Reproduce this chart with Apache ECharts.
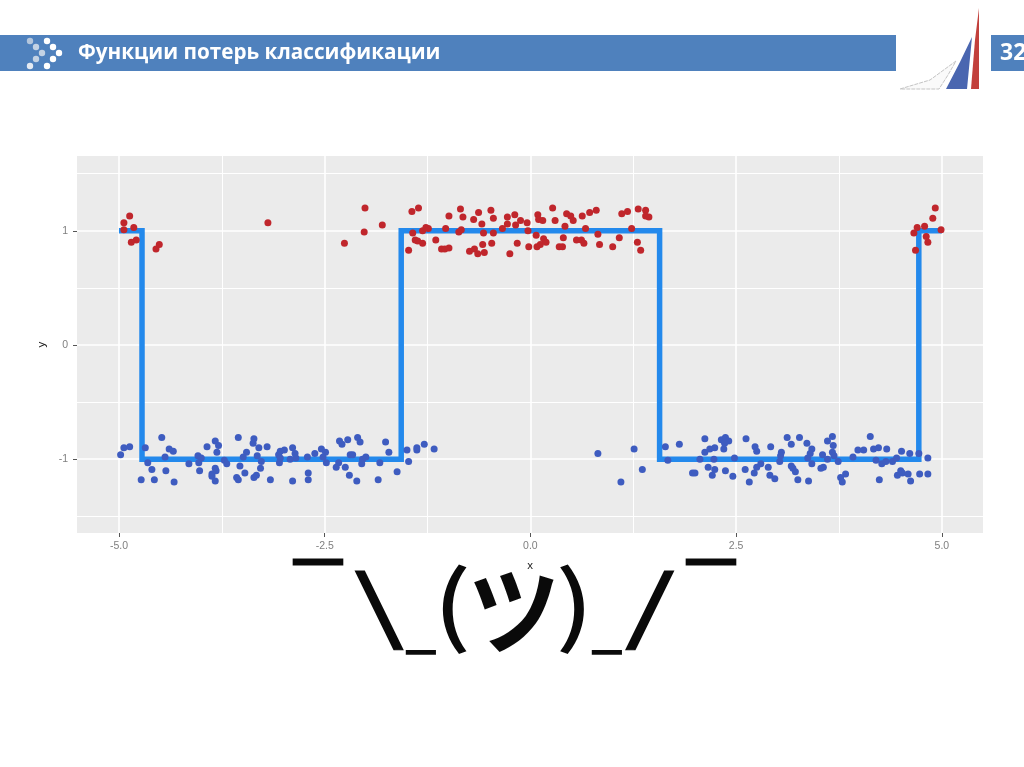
<!DOCTYPE html>
<html>
<head>
<meta charset="utf-8">
<title>Функции потерь классификации</title>
<style>
  html, body { margin: 0; padding: 0; background: #fff; }
  #chart { width: 1024px; height: 767px; }
</style>
<script src="https://cdn.jsdelivr.net/npm/echarts@6/dist/echarts.min.js"></script>
</head>
<body>
<div id="chart"></div>
<script>
const titleText = 'Функции потерь классификации';
const pageNumber = '32';
const shrugGlyphs = ['¯', '\\', '_', '(', 'ツ', ')', '_', '/', '¯'];

const xTicks = [-5, -2.5, 0, 2.5, 5];
const xMinorTicks = [-3.75, -1.25, 1.25, 3.75];
const yTicks = [-1, 0, 1];
const yMinorTicks = [-1.5, -0.5, 0.5, 1.5];

// ступенчатая функция классификатора
const stepLine = [[-5, 1], [-4.72, 1], [-4.72, -1], [-1.57, -1], [-1.57, 1], [1.57, 1], [1.57, -1], [4.72, -1], [4.72, 1], [5, 1]];

const redPoints = [
  [-4.87, 1.13], [-4.94, 1.07], [-4.82, 1.03], [-4.94, 1.01], [-4.79, 0.92], [-4.85, 0.90], [-4.51, 0.88], [-4.55, 0.84],
  [-3.19, 1.07], [-2.01, 1.20], [-1.80, 1.05], [-2.02, 0.99], [-2.26, 0.89],
  [-1.44, 1.17], [-1.36, 1.20], [-1.48, 0.83], [-1.43, 0.98], [-1.40, 0.92], [-1.37, 0.91], [-1.31, 0.89], [-1.31, 1.00],
  [-1.27, 1.03], [-1.24, 1.02], [-1.15, 0.92], [-1.08, 0.84], [-1.04, 0.84], [-0.99, 0.85], [-1.03, 1.02], [-0.99, 1.13],
  [-0.85, 1.19], [-0.82, 1.12], [-0.87, 0.99], [-0.84, 1.01], [-0.74, 0.82], [-0.68, 0.84], [-0.64, 0.80], [-0.56, 0.81],
  [-0.58, 0.88], [-0.47, 0.89], [-0.57, 0.98], [-0.45, 0.98], [-0.59, 1.06], [-0.69, 1.10], [-0.63, 1.16], [-0.48, 1.18],
  [-0.45, 1.11], [-0.34, 1.02], [-0.28, 1.06], [-0.28, 1.12], [-0.19, 1.14], [-0.18, 1.05], [-0.12, 1.09], [-0.04, 1.07],
  [-0.03, 1.00], [-0.25, 0.80], [-0.16, 0.89], [-0.02, 0.86], [0.07, 0.96], [0.08, 0.86], [0.12, 0.88], [0.16, 0.93],
  [0.19, 0.90], [0.09, 1.14], [0.10, 1.10], [0.15, 1.09], [0.30, 1.09], [0.27, 1.20], [0.42, 1.04], [0.44, 1.15],
  [0.49, 1.13], [0.52, 1.09], [0.63, 1.13], [0.72, 1.16], [0.80, 1.18], [0.67, 1.02], [0.82, 0.97], [0.40, 0.94],
  [0.35, 0.86], [0.39, 0.86], [0.56, 0.92], [0.62, 0.92], [0.65, 0.89], [0.84, 0.88], [1.00, 0.86], [1.08, 0.94],
  [1.23, 1.02], [1.11, 1.15], [1.18, 1.17], [1.31, 1.19], [1.40, 1.18], [1.40, 1.13], [1.44, 1.12], [1.30, 0.90], [1.34, 0.83],
  [4.92, 1.20], [4.89, 1.11], [4.79, 1.04], [4.70, 1.03], [4.66, 0.98], [4.99, 1.01], [4.81, 0.95], [4.83, 0.90], [4.68, 0.83]
];

const bluePoints = [
  [-4.98, -0.96], [-4.94, -0.90], [-4.87, -0.89], [-4.68, -0.90], [-4.65, -1.03], [-4.60, -1.09], [-4.73, -1.18], [-4.57, -1.18],
  [-4.43, -1.10], [-4.33, -1.20], [-4.48, -0.81], [-4.44, -0.98], [-4.39, -0.91], [-4.34, -0.93], [-4.15, -1.04], [-4.02, -1.10],
  [-4.04, -0.97], [-4.00, -0.99], [-4.03, -1.03], [-3.93, -0.89], [-3.83, -0.84], [-3.79, -0.88], [-3.81, -0.94], [-3.72, -1.01],
  [-3.69, -1.04], [-3.83, -1.08], [-3.82, -1.10], [-3.87, -1.13], [-3.87, -1.15], [-3.83, -1.19], [-3.55, -0.81], [-3.36, -0.82],
  [-3.37, -0.86], [-3.30, -0.90], [-3.20, -0.89], [-3.45, -0.94], [-3.49, -0.98], [-3.32, -0.97], [-3.27, -1.02], [-3.28, -1.08],
  [-3.53, -1.06], [-3.47, -1.12], [-3.57, -1.16], [-3.55, -1.18], [-3.36, -1.16], [-3.33, -1.14], [-3.16, -1.18], [-3.04, -0.93],
  [-2.99, -0.92], [-3.06, -0.96], [-3.04, -0.99], [-3.05, -1.03], [-2.89, -0.90], [-2.86, -0.95], [-2.85, -0.99], [-2.92, -1.00],
  [-2.89, -1.19], [-2.70, -1.12], [-2.70, -1.18], [-2.71, -0.98], [-2.62, -0.95], [-2.54, -0.91], [-2.49, -0.94], [-2.52, -0.98],
  [-2.48, -1.03], [-2.33, -1.03], [-2.36, -1.07], [-2.25, -1.07], [-2.20, -1.14], [-2.11, -1.19], [-2.32, -0.84], [-2.29, -0.87],
  [-2.22, -0.83], [-2.10, -0.81], [-2.07, -0.85], [-2.19, -0.96], [-2.16, -0.96], [-2.00, -0.98], [-2.04, -1.00], [-2.05, -1.04],
  [-1.83, -1.03], [-1.85, -1.18], [-1.76, -0.85], [-1.72, -0.94], [-1.62, -1.11], [-1.50, -0.92], [-1.48, -1.02], [-1.38, -0.92],
  [-1.38, -0.90], [-1.29, -0.87], [-1.17, -0.91],
  [0.82, -0.95], [1.26, -0.91], [1.36, -1.09], [1.10, -1.20], [1.64, -0.89], [1.81, -0.87], [1.67, -1.01], [1.97, -1.12],
  [2.00, -1.12], [2.06, -1.00], [2.12, -0.82], [2.12, -0.94], [2.18, -0.91], [2.24, -0.90], [2.23, -1.00], [2.16, -1.07],
  [2.24, -1.09], [2.21, -1.14], [2.37, -1.10], [2.46, -1.15], [2.35, -0.91], [2.32, -0.83], [2.37, -0.81], [2.41, -0.84],
  [2.36, -0.86], [2.48, -0.99], [2.62, -0.82], [2.61, -1.09], [2.72, -1.12], [2.66, -1.20], [2.75, -0.93], [2.73, -0.89],
  [2.75, -1.07], [2.80, -1.04], [2.89, -1.07], [2.91, -1.14], [2.97, -1.17], [2.92, -0.89], [3.05, -0.94], [3.04, -0.97],
  [3.03, -1.02], [3.12, -0.81], [3.17, -0.87], [3.27, -0.81], [3.36, -0.86], [3.17, -1.06], [3.19, -1.08], [3.22, -1.11],
  [3.25, -1.18], [3.38, -1.19], [3.42, -0.91], [3.40, -0.95], [3.37, -0.99], [3.42, -1.04], [3.55, -0.96], [3.61, -1.00],
  [3.56, -1.07], [3.53, -1.08], [3.61, -0.84], [3.67, -0.80], [3.68, -0.88], [3.67, -0.94], [3.69, -0.97], [3.74, -1.02],
  [3.83, -1.13], [3.77, -1.16], [3.79, -1.20], [3.92, -0.98], [3.98, -0.92], [4.05, -0.92], [4.13, -0.80], [4.17, -0.91],
  [4.23, -0.90], [4.33, -0.91], [4.20, -1.01], [4.27, -1.04], [4.32, -1.02], [4.40, -1.02], [4.45, -0.99], [4.51, -0.93],
  [4.61, -0.95], [4.72, -0.95], [4.83, -0.99], [4.24, -1.18], [4.46, -1.14], [4.50, -1.10], [4.52, -1.12], [4.59, -1.13],
  [4.62, -1.19], [4.73, -1.13], [4.83, -1.13]
];

// оформление слайда
const headerBlue = '#4f81bd';
const iconDots = [
  [30, 41, '#b4c6dc'], [36, 47, '#c3d2e4'], [47, 41, '#fff'], [53, 47, '#fff'], [59, 53, '#fff'],
  [42, 53, '#c3d2e4'], [36, 59, '#c3d2e4'], [30, 66, '#e4eaf2'], [53, 59, '#fff'], [47, 66, '#fff']
];
// x, y, масштаб по x, масштаб по y, шрифт, обводка для каждого знака
const shrugLayout = [
  [318, 592, 1.8, 1, 'normal 92px', 1], [379, 604, 1.4, 0.88, 'normal 92px', 1.2], [421, 625, 1, 1, 'bold 56px', 0], [452, 603, 1.15, 0.94, 'normal 92px', 1.5],
  [514, 610, 1, 1.05, 'bold 92px', 0], [575, 603, 1.15, 0.94, 'normal 92px', 1.5], [607, 625, 1, 1, 'bold 56px', 0], [650, 604, 1.4, 0.88, 'normal 92px', 1.2], [711, 592, 1.8, 1, 'normal 92px', 1]
];

function slideGraphics() {
  const items = [
    { type: 'rect', shape: { x: 0, y: 35, width: 896, height: 36 }, style: { fill: headerBlue } },
    { type: 'rect', shape: { x: 991, y: 35, width: 33, height: 36 }, style: { fill: headerBlue } },
    { type: 'text', style: { x: 78, y: 53, text: titleText, fill: '#fff', font: 'bold 20.7px "Open Sans"', textVerticalAlign: 'middle' } },
    { type: 'text', style: { x: 1000, y: 53, text: pageNumber, fill: '#fff', font: 'bold 23px "Open Sans"', textVerticalAlign: 'middle' } },
    // логотип
    { type: 'polygon', shape: { points: [[900, 89], [930, 80], [956, 61], [948, 75], [939, 89]] }, style: { fill: '#fafafa', stroke: '#c4c4c4', lineWidth: 1, lineDash: [4, 1] } },
    { type: 'polygon', shape: { points: [[946, 89], [960, 62], [972, 37], [967, 89]] }, style: { fill: '#4a66b0' } },
    { type: 'polygon', shape: { points: [[971, 89], [975, 40], [979, 8], [979, 89]] }, style: { fill: '#c2403c' } }
  ];
  iconDots.forEach(d => {
    items.push({ type: 'circle', shape: { cx: d[0], cy: d[1], r: 3.2 }, style: { fill: d[2] } });
  });
  shrugGlyphs.forEach((g, i) => {
    const p = shrugLayout[i];
    items.push({
      type: 'text', x: p[0], y: p[1], scaleX: p[2], scaleY: p[3], z: 5,
      style: {
        x: 0, y: 0, text: g, fill: '#0a0a0a', font: p[4] + ' "Noto Sans CJK JP"',
        stroke: p[5] ? '#0a0a0a' : null, lineWidth: p[5],
        textAlign: 'center', textVerticalAlign: 'middle'
      }
    });
  });
  return items;
}

const tickFont = { color: '#7f7f7f', fontSize: 10.5, fontFamily: 'Liberation Sans' };

const chart = echarts.init(document.getElementById('chart'), null, { renderer: 'canvas' });
chart.setOption({
  animation: false,
  backgroundColor: '#fff',
  grid: { left: 77, right: 41, top: 156, bottom: 234, backgroundColor: '#ebebeb', show: true, borderWidth: 0 },
  xAxis: [
    {
      type: 'value', min: -5.51, max: 5.5,
      name: 'x', nameLocation: 'middle', nameGap: 27,
      nameTextStyle: { color: '#222', fontSize: 11.5, fontFamily: 'Liberation Sans' },
      axisLine: { show: false, onZero: false },
      axisTick: { length: 4, lineStyle: { color: '#555' }, customValues: xTicks },
      axisLabel: { customValues: xTicks, margin: 8, formatter: v => v.toFixed(1), ...tickFont },
      splitLine: { lineStyle: { color: '#fff', width: 1.6 } }
    },
    {
      type: 'value', min: -5.51, max: 5.5, position: 'bottom',
      axisLine: { show: false, onZero: false },
      axisTick: { show: false, customValues: xMinorTicks },
      axisLabel: { show: false },
      splitLine: { lineStyle: { color: '#fff', width: 1 } }
    }
  ],
  yAxis: [
    {
      type: 'value', min: -1.646, max: 1.655,
      name: 'y', nameLocation: 'middle', nameGap: 27, nameRotate: 90,
      nameTextStyle: { color: '#222', fontSize: 11.5, fontFamily: 'Liberation Sans' },
      axisLine: { show: false, onZero: false },
      axisTick: { length: 4, lineStyle: { color: '#555' }, customValues: yTicks },
      axisLabel: { customValues: yTicks, margin: 9, ...tickFont },
      splitLine: { lineStyle: { color: '#fff', width: 1.6 } }
    },
    {
      type: 'value', min: -1.646, max: 1.655, position: 'left',
      axisLine: { show: false, onZero: false },
      axisTick: { show: false, customValues: yMinorTicks },
      axisLabel: { show: false },
      splitLine: { lineStyle: { color: '#fff', width: 1 } }
    }
  ],
  series: [
    {
      name: 'step', type: 'line', data: stepLine, showSymbol: false, z: 2,
      lineStyle: { color: '#2389ec', width: 5.5, join: 'miter' }
    },
    {
      name: 'class +1', type: 'scatter', data: redPoints, symbolSize: 7, z: 3,
      itemStyle: { color: '#c0262c', opacity: 1 }
    },
    {
      name: 'class -1', type: 'scatter', data: bluePoints, symbolSize: 7, z: 3,
      itemStyle: { color: '#3e5cc0', opacity: 1 }
    }
  ],
  graphic: slideGraphics()
});
</script>
</body>
</html>
